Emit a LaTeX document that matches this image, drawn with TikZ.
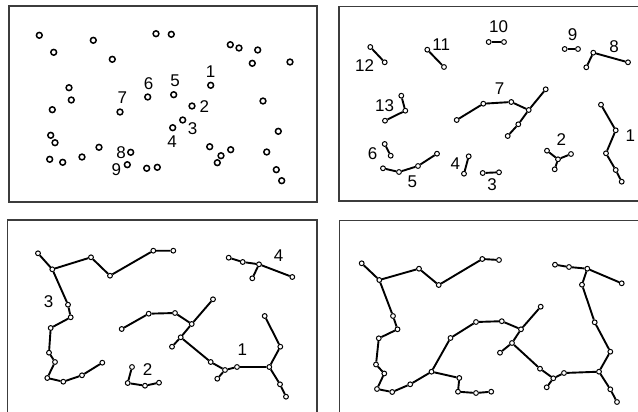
\documentclass[tikz,border=0pt]{standalone}
\usepackage{fontspec}
\setmainfont{Liberation Sans}
\usepackage{tikz}
\definecolor{FrameGray}{RGB}{60,60,60}

\begin{document}
\begin{tikzpicture}[x=1pt,y=-1pt,
    frame/.style={FrameGray,line width=1.1pt},
    seed/.style={circle,draw,line width=1.5pt,fill=white,inner sep=0pt,minimum size=5.8pt},
    pt/.style={circle,draw,line width=1pt,fill=white,inner sep=0pt,minimum size=4.8pt},
    link/.style={line width=1.9pt},
    num/.style={font=\fontsize{17}{17}\selectfont,inner sep=0pt}]
  \useasboundingbox (0,0) rectangle (638,412);
  % frames
  \draw[frame] (9,6) rectangle (317,202);
  \draw[frame] (645,6.5) -- (339,6.5) -- (339,201) -- (645,201);
  \draw[frame] (7.5,420) -- (7.5,220) -- (317,220) -- (317,420);
  \draw[frame] (645,220.5) -- (339.5,220.5) -- (339.5,420);

  % panel 1: single seeds
  \foreach \n/\x/\y in {a1/39.3/35.3,a2/53.7/52.3,a3/93.3/40.3,a4/112.3/59.3,a5/156/33.7,
      a6/171.3/34.3,a7/230.3/44.7,a8/239/48,a9/257.7/50,a10/252.3/63.3,a11/290/62,
      a12/69/87.7,a13/71.3/100,a14/52.3/109.7,a15/147.7/97,a16/173.7/94.7,a17/210.7/85.3,
      a18/192/106,a19/182.7/120,a20/172.7/127.7,a21/120/112,a22/263/101,a23/278.3/131.3,
      a24/50.7/135.3,a25/55/142.7,a26/99/147.3,a27/130.7/152.3,a28/127.3/164.7,
      a29/146.7/168.3,a30/157.3/167.3,a31/209.7/146.7,a32/230.7/149.7,a33/221/155.7,
      a34/217.3/162.7,a35/266.7/152,a36/276.3/169.7,a37/281.7/180.7,a38/49.7/159.3,
      a39/62.7/162.3,a40/82/157}
    \node[seed] (\n) at (\x,\y) {};
  \node[num] (la1) at (210.7,72) {1};
  \node[num] (la2) at (204.3,106.7) {2};
  \node[num] (la3) at (192.7,128.3) {3};
  \node[num] (la4) at (172,141.7) {4};
  \node[num] (la5) at (175,80.5) {5};
  \node[num] (la6) at (148.7,83.3) {6};
  \node[num] (la7) at (122.3,97.3) {7};
  \node[num] (la8) at (121,152.3) {8};
  \node[num] (la9) at (116.3,169.3) {9};

  % panel 2: small clusters
  \foreach \n/\x/\y in {b12a/370.3/47,b12b/384.7/62.3,b11a/427.3/49.7,b11b/444/67,
      b10a/488.7/42,b10b/504/42,b9a/564.7/49,b9b/578/49,
      b8a/586.3/67.3,b8b/593.3/52.7,b8c/628/62.3,
      b7a/456.7/120,b7b/483.3/103.7,b7c/511.3/102,b7d/528.7/110,b7e/545.7/89.3,
      b7f/518.3/124.3,b7g/507.7/136,
      b13a/401.3/95.7,b13b/405.3/110.7,b13c/385/120.7,
      b1a/601/104.7,b1b/615.7/130.3,b1c/606/153.3,b1d/615.7/170,b1e/621.7/181.7,
      b2a/547/150.7,b2b/571/154,b2c/558/159.3,b2d/554.7/169.3,
      b6a/384.7/144,b6b/390.7/155.7,
      b5a/383/168.3,b5b/399/172,b5c/418/166,b5d/437/153.7,
      b4a/468.7/156.3,b4b/464/173.7,b3a/482.7/173,b3b/499/172.3}
    \node[pt] (\n) at (\x,\y) {};
  \draw[link] (b12a) -- (b12b);
  \draw[link] (b11a) -- (b11b);
  \draw[link] (b10a) -- (b10b);
  \draw[link] (b9a) -- (b9b);
  \draw[link] (b8a) -- (b8b) -- (b8c);
  \draw[link] (b7a) -- (b7b) -- (b7c) -- (b7d) -- (b7e);
  \draw[link] (b7d) -- (b7f) -- (b7g);
  \draw[link] (b13a) -- (b13b) -- (b13c);
  \draw[link] (b1a) -- (b1b) -- (b1c) -- (b1d) -- (b1e);
  \draw[link] (b2a) -- (b2c) -- (b2b);
  \draw[link] (b2c) -- (b2d);
  \draw[link] (b6a) -- (b6b);
  \draw[link] (b5a) -- (b5b) -- (b5c) -- (b5d);
  \draw[link] (b4a) -- (b4b);
  \draw[link] (b3a) -- (b3b);
  \node[num] (lb1) at (630.3,135.7) {1};
  \node[num] (lb2) at (561.3,140) {2};
  \node[num] (lb3) at (492,184.3) {3};
  \node[num] (lb4) at (455.3,163.3) {4};
  \node[num] (lb5) at (412.3,182) {5};
  \node[num] (lb6) at (372.7,153.3) {6};
  \node[num] (lb7) at (499.7,88.3) {7};
  \node[num] (lb8) at (614,46.7) {8};
  \node[num] (lb9) at (572.7,34.3) {9};
  \node[num] (lb10) at (498.7,26.7) {10};
  \node[num] (lb11) at (441.3,45) {11};
  \node[num] (lb12) at (364.7,65.3) {12};
  \node[num] (lb13) at (384.7,106) {13};

  % panel 3: four groups
  \foreach \n/\x/\y in {c3a/38/253.3,c3b/52.3/269.3,c3c/91/257.3,c3d/110/275.7,
      c3e/153.3/250.7,c3f/173.3/250.7,c3g/68/304.7,c3h/70.7/317.3,c3i/50.7/328,
      c3j/49/352.7,c3k/55/362,c3l/47.3/378,c3m/63.3/381.7,c3n/82/375.3,c3o/102.3/362.7,
      c4a/228.7/257.7,c4b/242.7/262,c4c/259/264.3,c4d/252.3/278.3,c4e/292.3/277,
      c1a/121.7/329,c1b/148.7/313.7,c1c/175/313,c1d/191.7/324,c1e/213/299.3,
      c1f/180.7/337.3,c1g/172/346.7,c1h/210.7/362,c1i/225/370,c1j/217.3/378.7,
      c1k/237/367,c1l/269.3/367,c1m/280.3/346.7,c1n/264.7/316,c1o/280/384.3,c1p/286/396.7,
      c2a/132/367,c2b/127.7/383,c2c/145/385.7,c2d/159/382.7}
    \node[pt] (\n) at (\x,\y) {};
  \draw[link] (c3a) -- (c3b) -- (c3c) -- (c3d) -- (c3e) -- (c3f);
  \draw[link] (c3b) -- (c3g) -- (c3h) -- (c3i) -- (c3j) -- (c3k) -- (c3l) -- (c3m)
    -- (c3n) -- (c3o);
  \draw[link] (c4a) -- (c4b) -- (c4c) -- (c4e);
  \draw[link] (c4c) -- (c4d);
  \draw[link] (c1a) -- (c1b) -- (c1c) -- (c1d) -- (c1e);
  \draw[link] (c1d) -- (c1f) -- (c1g);
  \draw[link] (c1f) -- (c1h) -- (c1i) -- (c1j);
  \draw[link] (c1i) -- (c1k) -- (c1l) -- (c1m) -- (c1n);
  \draw[link] (c1l) -- (c1o) -- (c1p);
  \draw[link] (c2a) -- (c2b) -- (c2c) -- (c2d);
  \node[num] (lc1) at (242.3,350) {1};
  \node[num] (lc2) at (147.7,369.5) {2};
  \node[num] (lc3) at (48.7,301.7) {3};
  \node[num] (lc4) at (278.7,256) {4};

  % panel 4: merged groups
  \foreach \n/\x/\y in {da/361.7/263.3,db/379.3/280,dc/419/268.7,dd/438.7/285,
      de/482.3/259,df/499/260,dg/393/316,dh/397.5/329.3,di/378.8/338.3,dj/376/364.5,
      dk/384.3/373.5,dl/377/389,dm/392.2/392,dn/410.2/384.3,do/431.5/371.7,
      dp/450.5/338,dq/476/322,dr/501.8/321.2,ds/521/329.3,dt/540.7/306.7,
      du/512/343,dv/500/352.7,dw/540/368.7,dx/553.3/378.3,dy/546.7/387.3,
      dz/564/373,daa/599/371.7,dab/610.3/351.7,dac/594.7/322.3,dad/582/284.7,
      dae/587.3/268.7,daf/569/267,dag/555/264.7,dah/621.7/283.3,dai/610.3/389.3,
      daj/617/402,dak/459.3/378,dal/458/391.7,dam/476/393,dan/491.2/391.7}
    \node[pt] (\n) at (\x,\y) {};
  \draw[link] (da) -- (db) -- (dc) -- (dd) -- (de) -- (df);
  \draw[link] (db) -- (dg) -- (dh) -- (di) -- (dj) -- (dk) -- (dl) -- (dm) -- (dn) -- (do);
  \draw[link] (do) -- (dp) -- (dq) -- (dr) -- (ds) -- (dt);
  \draw[link] (ds) -- (du) -- (dv);
  \draw[link] (du) -- (dw) -- (dx) -- (dy);
  \draw[link] (dx) -- (dz) -- (daa) -- (dab) -- (dac) -- (dad) -- (dae) -- (daf) -- (dag);
  \draw[link] (dae) -- (dah);
  \draw[link] (daa) -- (dai) -- (daj);
  \draw[link] (do) -- (dak) -- (dal) -- (dam) -- (dan);
\end{tikzpicture}
\end{document}
